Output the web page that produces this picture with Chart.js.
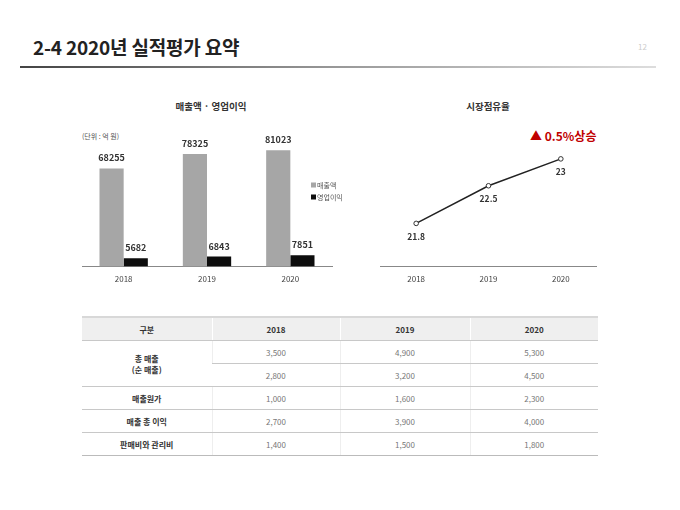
<!DOCTYPE html>
<html><head><meta charset="utf-8">
<script src="https://cdn.jsdelivr.net/npm/chart.js@4.4.1/dist/chart.umd.min.js"></script>
<style>
html,body{margin:0;padding:0;background:#fff;width:680px;height:510px;overflow:hidden;font-family:"Noto Sans CJK KR","Noto Sans",sans-serif;}
.abs{position:absolute;}
#title{left:33px;top:33px;font-size:19px;font-weight:bold;color:#222;letter-spacing:-0.2px;}
#pnum{left:638px;top:41px;font-size:8px;color:#ccc;}
#rule{left:20px;top:66px;width:636px;height:2px;background:linear-gradient(to right,#444,#999 50%,#ddd);}
.ctitle{font-size:9.5px;font-weight:bold;color:#333;transform:translateX(-50%);white-space:nowrap;}
#unit{left:82px;top:131px;font-size:7px;color:#555;}
#up{left:530px;top:127px;font-size:12px;font-weight:bold;color:#c00000;white-space:nowrap;}
table{position:absolute;left:82px;top:316px;width:516px;border-collapse:collapse;font-size:8px;table-layout:fixed;}
td,th{height:22px;padding:0;text-align:center;border-bottom:1px solid #c8c8c8;border-left:1px solid #eee;}
th{background:#efefef;font-weight:bold;color:#333;border-top:2px solid #d8d8d8;border-left:1px solid #fff;}
td{color:#777;}
td.lab{font-weight:bold;color:#333;}
tr:last-child td{border-bottom:1px solid #bbb;}
td:first-child,th:first-child{border-left:none;}
</style></head>
<body>
<div id="title" class="abs">2-4 2020년 실적평가 요약</div>
<div id="pnum" class="abs">12</div>
<div id="rule" class="abs"></div>
<div class="abs ctitle" style="left:211px;top:99px;">매출액 · 영업이익</div>
<div class="abs ctitle" style="left:488px;top:99px;">시장점유율</div>
<div id="unit" class="abs">(단위 : 억 원)</div>
<div id="up" class="abs">▲ 0.5%상승</div>
<div class="abs" style="left:82px;top:113px;width:272px;height:179px;"><canvas id="bar"></canvas></div>
<div class="abs" style="left:380px;top:122px;width:217px;height:170px;"><canvas id="line"></canvas></div>
<table id="tbl"><colgroup><col style="width:130px"><col style="width:128px"><col style="width:130px"><col style="width:128px"></colgroup></table>
<script>
const years = ['2018','2019','2020'];
const sales = [68255, 78325, 81023];
const profit = [5682, 6843, 7851];
const share = [21.8, 22.5, 23];
const tableHeader = ['구분','2018','2019','2020'];
const rowLabels = ['총 매출<br>(순 매출)','매출원가','매출 총 이익','판매비와 관리비'];
const grossSales = ['3,500','4,900','5,300'];
const netSales = ['2,800','3,200','4,500'];
const costOfSales = ['1,000','1,600','2,300'];
const grossProfit = ['2,700','3,900','4,000'];
const sgna = ['1,400','1,500','1,800'];

const FONT = '"Noto Sans CJK KR","Noto Sans",sans-serif';
Chart.defaults.font.family = FONT;
Chart.defaults.animation = false;
Chart.defaults.responsive = true;
Chart.defaults.maintainAspectRatio = false;

const barLabels = {
  id:'barLabels',
  afterDatasetsDraw(chart){
    const ctx = chart.ctx;
    ctx.save();
    ctx.font = 'bold 9px ' + FONT;
    ctx.fillStyle = '#333';
    ctx.textAlign = 'center';
    ctx.textBaseline = 'bottom';
    chart.data.datasets.forEach((ds,i)=>{
      chart.getDatasetMeta(i).data.forEach((el,j)=>{
        ctx.fillText(String(ds.data[j]), el.x, el.y - 6);
      });
    });
    // legend inside plot
    ctx.font = '7px ' + FONT;
    ctx.textAlign = 'left';
    ctx.textBaseline = 'middle';
    chart.data.datasets.forEach((ds,i)=>{
      const y = 72 + i*12;
      ctx.fillStyle = ds.backgroundColor;
      ctx.fillRect(229, y-2.5, 5, 5);
      ctx.fillStyle = '#555';
      ctx.fillText(ds.label, 235, y);
    });
    ctx.restore();
  }
};

new Chart(document.getElementById('bar'), {
  type:'bar',
  data:{labels:years, datasets:[
    {label:'매출액', data:sales, backgroundColor:'#a6a6a6', categoryPercentage:0.58, barPercentage:1},
    {label:'영업이익', data:profit, backgroundColor:'#0d0d0d', categoryPercentage:0.58, barPercentage:1}
  ]},
  options:{
    layout:{autoPadding:false, padding:{top:10,left:0,right:22,bottom:0}},
    plugins:{legend:{display:false}, tooltip:{enabled:false}},
    scales:{
      x:{grid:{display:false,drawTicks:false}, border:{display:true,color:'#888',width:1},
         ticks:{color:'#444',font:{size:8},padding:8}},
      y:{display:false,min:0,max:100000}
    }
  },
  plugins:[barLabels]
});

const lineLabels = {
  id:'lineLabels',
  afterDatasetsDraw(chart){
    const ctx = chart.ctx;
    ctx.save();
    ctx.font = 'bold 8.5px ' + FONT;
    ctx.fillStyle = '#333';
    ctx.textAlign = 'center';
    ctx.textBaseline = 'top';
    const ds = chart.data.datasets[0];
    chart.getDatasetMeta(0).data.forEach((el,j)=>{
      ctx.fillText(String(ds.data[j]), el.x, el.y + 9);
    });
    ctx.restore();
  }
};

new Chart(document.getElementById('line'), {
  type:'line',
  data:{labels:years, datasets:[
    {label:'시장점유율', data:share, borderColor:'#222', borderWidth:1.5, pointRadius:2.3,
     pointBackgroundColor:'#fff', pointBorderColor:'#333', pointBorderWidth:1, tension:0}
  ]},
  options:{
    layout:{autoPadding:false, padding:{top:10,left:0,right:0,bottom:0}},
    plugins:{legend:{display:false}, tooltip:{enabled:false}},
    scales:{
      x:{offset:true, grid:{display:false,drawTicks:false}, border:{display:true,color:'#888',width:1},
         ticks:{color:'#444',font:{size:8},padding:8}},
      y:{display:false,min:21,max:23.5}
    }
  },
  plugins:[lineLabels]
});

// table
const tbl = document.getElementById('tbl');
let html = '<tr>' + tableHeader.map(h=>'<th>'+h+'</th>').join('') + '</tr>';
html += '<tr><td class="lab" rowspan="2">'+rowLabels[0]+'</td>' + grossSales.map(v=>'<td>'+v+'</td>').join('') + '</tr>';
html += '<tr>' + netSales.map(v=>'<td>'+v+'</td>').join('') + '</tr>';
[costOfSales, grossProfit, sgna].forEach((arr,i)=>{
  html += '<tr><td class="lab">'+rowLabels[i+1]+'</td>' + arr.map(v=>'<td>'+v+'</td>').join('') + '</tr>';
});
tbl.insertAdjacentHTML('beforeend', html);
</script>
</body></html>
